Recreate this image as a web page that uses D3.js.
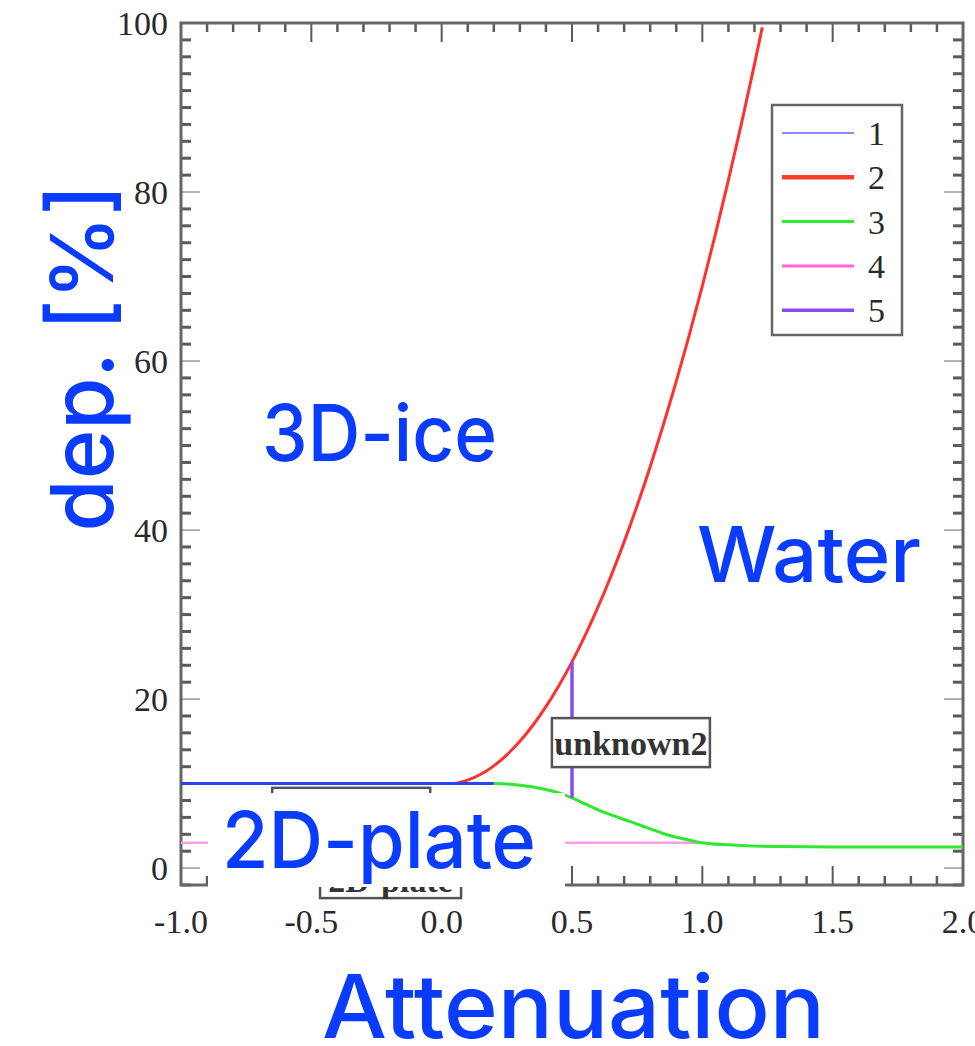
<!DOCTYPE html>
<html>
<head>
<meta charset="utf-8">
<script src="https://cdn.jsdelivr.net/npm/d3@7"></script>
<style>
  html, body { margin: 0; padding: 0; background: #fff; }
  svg { display: block; }
</style>
</head>
<body>
<svg id="chart" width="975" height="1046"></svg>
<script>
// ---------- data ----------
const seriesNames = ["1", "2", "3", "4", "5"];
const series1 = [[-1.0, 10], [0.2, 10]];
const series2 = [
  [0.05, 10.0], [0.1, 10.4], [0.15, 11.1], [0.2, 12.1], [0.25, 13.4], [0.3, 15.0],
  [0.35, 16.9], [0.4, 19.1], [0.45, 21.6], [0.5, 24.4], [0.55, 27.5], [0.6, 30.9],
  [0.65, 34.6], [0.7, 38.6], [0.75, 42.9], [0.8, 47.5], [0.85, 52.4], [0.9, 57.6],
  [0.95, 63.1], [1.0, 68.9], [1.05, 75.0], [1.1, 81.4], [1.15, 88.1], [1.2, 95.1], [1.23, 99.5]
];
const series3 = [
  [0.2, 10.0], [0.25, 9.95], [0.3, 9.8], [0.35, 9.6], [0.4, 9.3], [0.45, 8.9],
  [0.5, 8.3], [0.55, 7.6], [0.6, 6.9], [0.65, 6.3], [0.7, 5.75], [0.75, 5.2],
  [0.8, 4.65], [0.85, 4.1], [0.9, 3.65], [0.95, 3.3], [1.0, 3.0], [1.1, 2.75],
  [1.2, 2.6], [1.3, 2.55], [1.5, 2.5], [1.75, 2.5], [2.0, 2.5]
];
const series4 = [[-1.0, 3], [1.0, 3]];
const series5 = [[0.5, 8.3], [0.5, 24.4]];
const xMajorTicks = [-1.0, -0.5, 0.0, 0.5, 1.0, 1.5, 2.0];
const xTickLabels = ["-1.0", "-0.5", "0.0", "0.5", "1.0", "1.5", "2.0"];
const yMajorTicks = [0, 20, 40, 60, 80, 100];
const yTickLabels = ["0", "20", "40", "60", "80", "100"];
const annotationText = ["unknown2", "2D-plate"];
const overlayLabels = ["3D-ice", "Water", "2D-plate", "dep. [%]", "Attenuation"];

// ---------- layout ----------
const L = 181, R = 963, T = 23, B = 885;
const svg = d3.select("#chart");
const x = d3.scaleLinear().domain([-1, 2]).range([L, R]);
const y = d3.scaleLinear().domain([-2, 100]).range([B, T]);

const serif = "'Liberation Serif', 'DejaVu Serif', serif";
const sans = "Inter, 'Noto Sans', 'Liberation Sans', sans-serif";
const blue = "#0a3cff";
const frameCol = "#666";

const xMinor = d3.range(-10, 21).map(d => d / 10).filter(v => !xMajorTicks.some(m => Math.abs(m - v) < 1e-9));
const yMinor = d3.range(-2, 101, 2).filter(v => v % 20 !== 0);

const g = svg.append("g");

// ticks (inward)
const tickG = g.append("g").attr("stroke", "#5a5a5a");
xMinor.forEach(v => {
  tickG.append("line").attr("x1", x(v)).attr("x2", x(v)).attr("y1", B).attr("y2", B - 9).attr("stroke-width", 2.5);
  tickG.append("line").attr("x1", x(v)).attr("x2", x(v)).attr("y1", T).attr("y2", T + 9).attr("stroke-width", 2.5);
});
xMajorTicks.forEach(v => {
  tickG.append("line").attr("x1", x(v)).attr("x2", x(v)).attr("y1", B).attr("y2", B - 19).attr("stroke-width", 2);
  tickG.append("line").attr("x1", x(v)).attr("x2", x(v)).attr("y1", T).attr("y2", T + 19).attr("stroke-width", 2);
});
yMinor.forEach(v => {
  tickG.append("line").attr("x1", L).attr("x2", L + 10).attr("y1", y(v)).attr("y2", y(v)).attr("stroke-width", 3);
  tickG.append("line").attr("x1", R).attr("x2", R - 10).attr("y1", y(v)).attr("y2", y(v)).attr("stroke-width", 3);
});
yMajorTicks.forEach(v => {
  tickG.append("line").attr("x1", L).attr("x2", L + 19).attr("y1", y(v)).attr("y2", y(v)).attr("stroke-width", 1.5).attr("stroke", "#999");
  tickG.append("line").attr("x1", R).attr("x2", R - 19).attr("y1", y(v)).attr("y2", y(v)).attr("stroke-width", 1.5).attr("stroke", "#999");
});

// frame
g.append("rect").attr("x", L).attr("y", T).attr("width", R - L).attr("height", B - T)
  .attr("fill", "none").attr("stroke", frameCol).attr("stroke-width", 3);

// tick labels
g.append("g").selectAll("text").data(xMajorTicks).join("text")
  .attr("x", d => x(d)).attr("y", 933)
  .attr("text-anchor", "middle")
  .attr("font-family", serif).attr("font-size", 34).attr("fill", "#2a2a2a")
  .text((d, i) => xTickLabels[i]);
g.append("g").selectAll("text").data(yMajorTicks).join("text")
  .attr("x", 168).attr("y", d => y(d)).attr("dy", "0.35em")
  .attr("text-anchor", "end")
  .attr("font-family", serif).attr("font-size", 34).attr("fill", "#2a2a2a")
  .text((d, i) => yTickLabels[i]);

// lines
const line = d3.line().x(d => x(d[0])).y(d => y(d[1])).curve(d3.curveMonotoneX);
const lineStraight = d3.line().x(d => x(d[0])).y(d => y(d[1]));
const lg = g.append("g").attr("fill", "none").attr("stroke-linecap", "butt");
lg.append("path").datum(series4).attr("d", lineStraight).attr("stroke", "#ff9ce8").attr("stroke-width", 2.5);
lg.append("path").datum(series3).attr("d", line).attr("stroke", "#2fe82f").attr("stroke-width", 3);
lg.append("path").datum(series2).attr("d", line).attr("stroke", "#ff3030").attr("stroke-width", 3);
lg.append("path").datum(series1).attr("d", lineStraight).attr("stroke", "#2f40ef").attr("stroke-width", 3);
lg.append("path").datum(series5).attr("d", lineStraight).attr("stroke", "#8a4af0").attr("stroke-width", 3.5);

// legend
const legendColors = ["#8a8aff", "#ff3b2f", "#33ee33", "#ff66dd", "#8a4af0"];
const legendWidths = [2, 4.5, 3, 3, 3.5];
const leg = g.append("g");
leg.append("rect").attr("x", 772).attr("y", 105).attr("width", 130).attr("height", 230)
  .attr("fill", "#fff").attr("stroke", frameCol).attr("stroke-width", 2.5);
seriesNames.forEach((nm, i) => {
  const yy = 133 + i * 44.3;
  leg.append("line").attr("x1", 782).attr("x2", 854).attr("y1", yy).attr("y2", yy)
    .attr("stroke", legendColors[i]).attr("stroke-width", legendWidths[i]);
  leg.append("text").attr("x", 868).attr("y", yy).attr("dy", "0.35em")
    .attr("font-family", serif).attr("font-size", 34).attr("fill", "#2a2a2a").text(nm);
});

// annotation boxes (original chart labels)
function labelBox(cx, cy, w, h, txt, baseOff) {
  const a = g.append("g");
  a.append("rect").attr("x", cx - w / 2).attr("y", cy - h / 2).attr("width", w).attr("height", h)
    .attr("fill", "#fff").attr("stroke", "#555").attr("stroke-width", 2.5);
  if (txt) a.append("text").attr("x", cx).attr("y", cy + baseOff)
    .attr("text-anchor", "middle").attr("font-family", serif).attr("font-size", 34)
    .attr("font-weight", "bold").attr("fill", "#333").text(txt);
}
labelBox(x(0.726), y(14.85), 158, 49, annotationText[0], 12);
labelBox(x(-0.347), y(6.6), 158, 49, null, 0);
labelBox(x(-0.196), y(-0.65), 141, 49, annotationText[1], 18);

// white overlay and blue labels
svg.append("rect").attr("x", 208).attr("y", 793).attr("width", 357).attr("height", 94).attr("fill", "#fff");

function blueText(txt, px, py, size, len, rotate) {
  const t = svg.append("text")
    .attr("font-family", sans).attr("font-weight", 500)
    .attr("font-size", size).attr("fill", blue)
    .attr("textLength", len).attr("lengthAdjust", "spacingAndGlyphs")
    .text(txt);
  if (rotate) {
    t.attr("text-anchor", "middle").attr("transform", `translate(${px},${py}) rotate(-90)`);
  } else {
    t.attr("x", px).attr("y", py);
  }
}
blueText(overlayLabels[0], 262, 461, 78, 235);
blueText(overlayLabels[1], 697, 582, 77, 224);
blueText(overlayLabels[2], 222, 868, 78, 314);
blueText(overlayLabels[3], 113, 358, 86, 347, true);
blueText(overlayLabels[4], 322, 1038, 88, 503);
</script>
</body>
</html>
